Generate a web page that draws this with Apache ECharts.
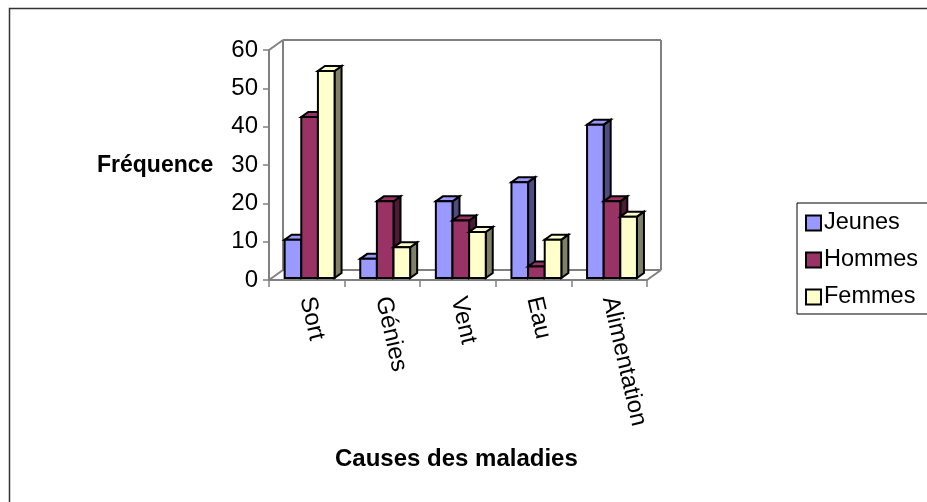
<!DOCTYPE html>
<html>
<head>
<meta charset="utf-8">
<script src="https://cdn.jsdelivr.net/npm/echarts@6/dist/echarts.min.js"></script>
<style>
  html, body { margin: 0; padding: 0; background: #fff; }
  #chart { width: 927px; height: 502px; }
</style>
</head>
<body>
<div id="chart"></div>
<script>
// Causes des maladies : fréquence par groupe
const categories = ['Sort', 'Génies', 'Vent', 'Eau', 'Alimentation'];
const jeunes = [10, 5, 20, 25, 40];
const hommes = [42, 20, 15, 3, 20];
const femmes = [54, 8, 12, 10, 16];
const seriesNames = ['Jeunes', 'Hommes', 'Femmes'];
const yMin = 0, yMax = 60, yStep = 10;

const FONT = '"Liberation Sans", Arial, sans-serif';

// Face colours: front / top / side
const palette = [
  { front: '#9999FF', top: '#9999FF', side: '#4D4D80' },
  { front: '#993366', top: '#993366', side: '#4D1A33' },
  { front: '#FFFFCC', top: '#FFFFCC', side: '#808066' }
];

// Pseudo-3D depth of the plot box (pixels, towards the back)
const DX = 14, DY = -10;
// Bars occupy this depth slice of the box
const F0 = 0.2, F1 = 0.7;
const BAR_FRAC = 0.22;

function barRenderer(k) {
  const c = palette[k];
  return function (params, api) {
    const i = api.value(0), v = api.value(1);
    const bw = api.size([1, 0])[0];
    const base = api.coord([i, 0]);
    const tip = api.coord([i, v]);
    const w = bw * BAR_FRAC;
    const x0 = base[0] - 1.5 * w + k * w + DX * F0;
    const x1 = x0 + w;
    const yb = base[1] + DY * F0;
    const yt = tip[1] + DY * F0;
    const ddx = DX * (F1 - F0), ddy = DY * (F1 - F0);
    const st = { stroke: '#000', lineWidth: 2, lineJoin: 'miter' };
    return {
      type: 'group',
      children: [
        { type: 'polygon', shape: { points: [[x1, yb], [x1 + ddx, yb + ddy], [x1 + ddx, yt + ddy], [x1, yt]] },
          style: Object.assign({ fill: c.side }, st) },
        { type: 'polygon', shape: { points: [[x0, yt], [x1, yt], [x1 + ddx, yt + ddy], [x0 + ddx, yt + ddy]] },
          style: Object.assign({ fill: c.top }, st) },
        { type: 'rect', shape: { x: x0, y: yt, width: w, height: yb - yt },
          style: Object.assign({ fill: c.front }, st) }
      ]
    };
  };
}

// Back wall, floor edges and side edges of the box
function frameRenderer(params, api) {
  const bw = api.size([1, 0])[0];
  const n = categories.length;
  const left = api.coord([0, yMin])[0] - bw / 2;
  const right = api.coord([n - 1, yMin])[0] + bw / 2;
  const bottom = api.coord([0, yMin])[1];
  const top = api.coord([0, yMax])[1];
  const ln = { stroke: '#808080', lineWidth: 2 };
  const seg = (a, b) => ({ type: 'line', shape: { x1: a[0], y1: a[1], x2: b[0], y2: b[1] }, style: ln });
  const bl = [left + DX, bottom + DY], tl = [left + DX, top + DY];
  const tr = [right + DX, top + DY], br = [right + DX, bottom + DY];
  return {
    type: 'group',
    children: [
      seg(bl, tl), seg(tl, tr), seg(tr, br), seg(bl, br),
      seg([left, top], tl), seg([left, bottom], bl), seg([right, bottom], br)
    ]
  };
}

const seriesData = [jeunes, hommes, femmes];

const series = [{
  type: 'custom',
  name: '_frame',
  silent: true,
  z: 1,
  renderItem: frameRenderer,
  data: [[0, 0]]
}].concat(seriesNames.map((name, k) => ({
  type: 'custom',
  name: name,
  z: 2 + k,
  itemStyle: { color: palette[k].front },
  renderItem: barRenderer(k),
  encode: { x: 0, y: 1 },
  data: seriesData[k].map((v, i) => [i, v])
})));

const chart = echarts.init(document.getElementById('chart'), null, { renderer: 'canvas' });
chart.setOption({
  animation: false,
  backgroundColor: '#fff',
  textStyle: { fontFamily: FONT },
  grid: { left: 269, top: 50, right: 280, bottom: 222, containLabel: false },
  xAxis: {
    type: 'category',
    data: categories,
    axisLine: { show: true, lineStyle: { color: '#808080', width: 2 } },
    axisTick: { show: true, length: 7, lineStyle: { color: '#808080', width: 1.5 } },
    axisLabel: { rotate: -77, margin: 17, fontSize: 24, color: '#000', fontFamily: FONT },
    splitLine: { show: false }
  },
  yAxis: {
    type: 'value',
    min: yMin, max: yMax, interval: yStep,
    axisLine: { show: true, lineStyle: { color: '#808080', width: 2 } },
    axisTick: { show: true, length: 6, lineStyle: { color: '#808080', width: 1.5 } },
    axisLabel: { margin: 11, fontSize: 24, color: '#000', fontFamily: FONT },
    splitLine: { show: false }
  },
  legend: {
    orient: 'vertical',
    left: 797, top: 203,
    padding: [8, 30, 5, 8],
    itemWidth: 15, itemHeight: 15, itemGap: 13,
    borderColor: '#000', borderWidth: 1,
    icon: 'rect',
    selectedMode: false,
    textStyle: { fontSize: 23.5, color: '#000', fontFamily: FONT, padding: [0, 0, 0, -2] },
    data: seriesNames.map(n => ({ name: n, itemStyle: { borderColor: '#000', borderWidth: 2 } }))
  },
  graphic: [
    { type: 'rect', shape: { x: 9.5, y: 8.5, width: 1200, height: 1200 },
      style: { fill: 'none', stroke: '#333', lineWidth: 1.5 }, silent: true },
    { type: 'text', left: 97, top: 154,
      style: { text: 'Fréquence', font: 'bold 23px ' + FONT, fill: '#000' } },
    { type: 'text', left: 335, top: 447,
      style: { text: 'Causes des maladies', font: 'bold 24px ' + FONT, fill: '#000' } }
  ],
  series: series
});
</script>
</body>
</html>
